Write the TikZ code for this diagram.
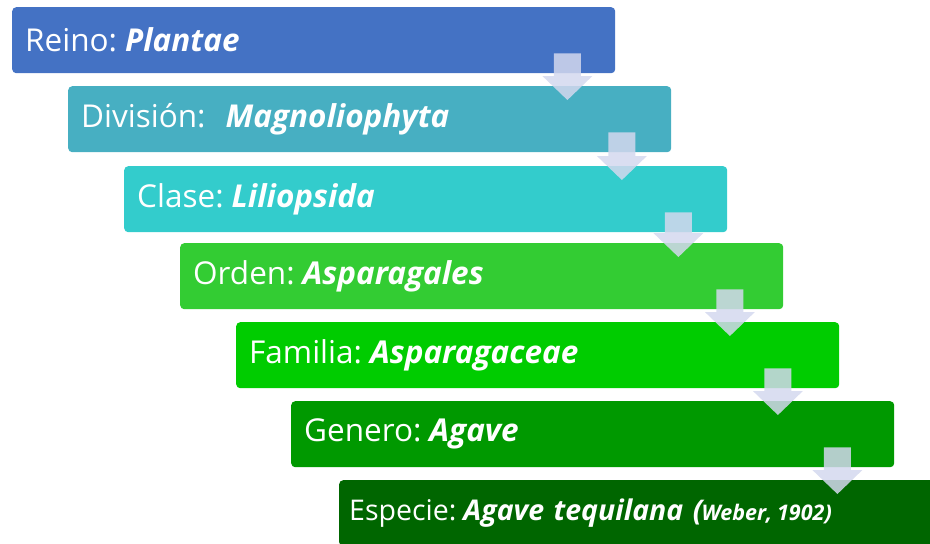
\documentclass[tikz,border=0pt]{standalone}
\usepackage{fontspec}
\setmainfont{Open Sans}
\usetikzlibrary{calc}
\definecolor{c1}{HTML}{4472C4}
\definecolor{c2}{HTML}{47AFC2}
\definecolor{c3}{HTML}{33CCCC}
\definecolor{c4}{HTML}{33CC33}
\definecolor{c5}{HTML}{00CC00}
\definecolor{c6}{HTML}{009900}
\definecolor{c7}{HTML}{006600}
\definecolor{arrowfill}{HTML}{D3D8EE}
\newcommand{\sci}[1]{\textbf{\textit{#1}}}
\newcommand{\blockarrow}[3]{%
  \path let \p1=(#1.south east), \p2=(#2.north) in
    [fill=arrowfill, fill opacity=0.85]
    (\x1-#3pt-13.5pt,\y1+20pt) -- (\x1-#3pt+13.5pt,\y1+20pt)
    -- (\x1-#3pt+13.5pt,\y2-14pt+24pt) -- (\x1-#3pt+25pt,\y2-14pt+24pt)
    -- (\x1-#3pt,\y2-14pt) -- (\x1-#3pt-25pt,\y2-14pt+24pt)
    -- (\x1-#3pt-13.5pt,\y2-14pt+24pt) -- cycle;}
\tikzset{
  level/.style={anchor=north west, rectangle, rounded corners=4pt,
    minimum width=603pt, minimum height=66pt, text width=577pt,
    inner xsep=13pt, inner ysep=0pt, align=left, text=white,
    font=\fontsize{31.5}{36}\selectfont, fill=#1}
}
\begin{document}
\begin{tikzpicture}[x=1pt,y=-1pt]
\useasboundingbox (0,0) rectangle (930,544);
\clip (0,0) rectangle (930,544);
\node[level=c1] (b1) at (12,7) {Reino:\kern8pt\sci{Plantae}};
\node[level=c2] (b2) at (68,86) {División:\kern20pt\sci{Magnoliophyta}};
\node[level=c3] (b3) at (124,166) {Clase:\kern8pt\sci{Liliopsida}};
\node[level=c4] (b4) at (180,243) {Orden:\kern8pt\sci{Asparagales}};
\node[level=c5] (b5) at (236,322) {Familia:\kern8pt\sci{Asparagaceae}};
\node[level=c6] (b6) at (291,401) {Genero:\kern8pt\sci{Agave}};
\node[level=c7, minimum width=620pt, text width=600pt,
  inner xsep=10pt, font=\fontsize{28.5}{32}\selectfont] (b7) at (339,480)
  {Especie:\kern7pt\sci{Agave tequilana (}\kern-3pt{\fontsize{21.5}{24}\selectfont\sci{Weber,\kern5pt1902)}}};
\blockarrow{b1}{b2}{48}
\blockarrow{b2}{b3}{49.5}
\blockarrow{b3}{b4}{49}
\blockarrow{b4}{b5}{53.5}
\blockarrow{b5}{b6}{61.5}
\blockarrow{b6}{b7}{57}
\end{tikzpicture}
\end{document}
